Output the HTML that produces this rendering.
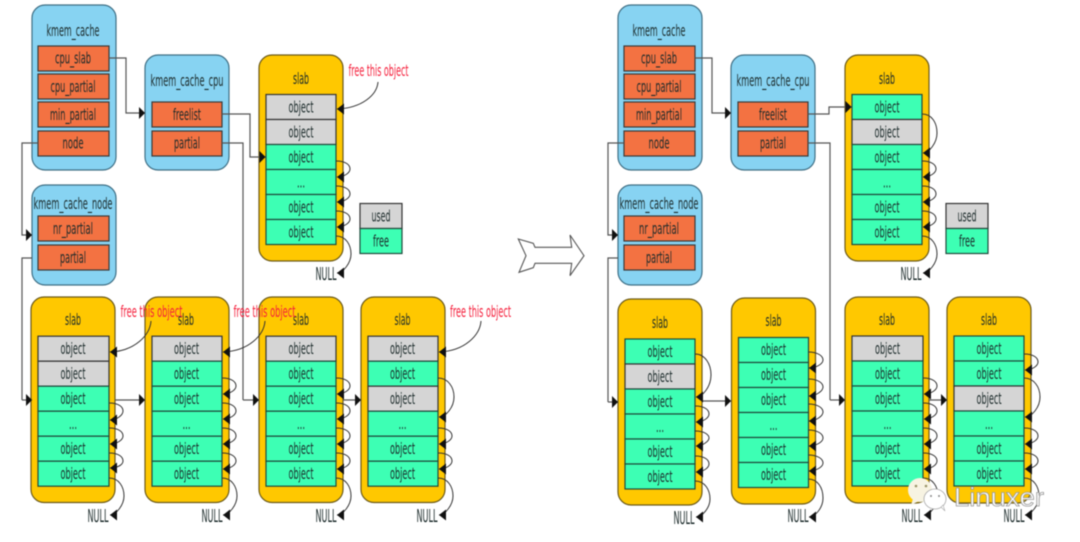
<!DOCTYPE html>
<html><head><meta charset="utf-8"><style>
html,body{margin:0;padding:0;background:#fff;width:1080px;height:542px;overflow:hidden}
svg{display:block;filter:blur(.45px)}
text{font-family:"DejaVu Sans","Liberation Sans",sans-serif;font-size:16px;text-anchor:middle;fill:#1c2b2b}
.b{fill:#87d3f2;stroke:#3f6f85;stroke-width:1.2}
.y{fill:#ffc800;stroke:#6b5a1a;stroke-width:1.2}
.r{fill:#f37242;stroke:#3a3a3a;stroke-width:1.2}
.g{fill:#3dffb4;stroke:#1f4a3c;stroke-width:1.2}
.u{fill:#d5d5d5;stroke:#333;stroke-width:1.2}
.l{fill:none;stroke:#555;stroke-width:1.2}
.a{fill:none;stroke:#333;stroke-width:1;marker-end:url(#h)}
.s{fill:none;stroke:#555;stroke-width:1.2;marker-end:url(#h2)}
text.f{fill:#f5203c}
text.n{font-size:18px}
</style></head><body>
<svg width="1080" height="542" viewBox="0 0 1080 542" xmlns="http://www.w3.org/2000/svg">
<defs>
<marker id="h" markerUnits="userSpaceOnUse" markerWidth="8" markerHeight="11" refX="7" refY="5.500" orient="180"><path d="M0 0L7 5.500L0 11z" fill="#111"/></marker>
<marker id="h2" markerUnits="userSpaceOnUse" markerWidth="7" markerHeight="12" refX="6" refY="6" orient="auto"><path d="M0 0L6 6L0 12z" fill="#111"/></marker>
</defs>

<!-- LEFT TOP -->
<rect class="b" x="32" y="5" width="84" height="165" rx="13"/>
<text x="73" y="36" textLength="53" lengthAdjust="spacingAndGlyphs">kmem_cache</text>
<rect class="r" x="38" y="46" width="71" height="25"/><text x="73" y="63.500" textLength="36" lengthAdjust="spacingAndGlyphs">cpu_slab</text>
<rect class="r" x="38" y="74" width="71" height="25"/><text x="73" y="92" textLength="45" lengthAdjust="spacingAndGlyphs">cpu_partial</text>
<rect class="r" x="38" y="102" width="71" height="25"/><text x="73" y="120" textLength="46" lengthAdjust="spacingAndGlyphs">min_partial</text>
<rect class="r" x="38" y="131" width="71" height="25"/><text x="73" y="148.500" textLength="21" lengthAdjust="spacingAndGlyphs">node</text>
<rect class="b" x="145" y="55" width="84" height="115" rx="13"/>
<text x="187" y="86" textLength="73" lengthAdjust="spacingAndGlyphs">kmem_cache_cpu</text>
<rect class="r" x="152" y="102" width="70" height="25"/><text x="187" y="120" textLength="28" lengthAdjust="spacingAndGlyphs">freelist</text>
<rect class="r" x="152" y="131" width="70" height="25"/><text x="187" y="148.500" textLength="26" lengthAdjust="spacingAndGlyphs">partial</text>
<rect class="b" x="32" y="185" width="84" height="100" rx="13"/>
<text x="73" y="209" textLength="79" lengthAdjust="spacingAndGlyphs">kmem_cache_node</text>
<rect class="r" x="38" y="216" width="71" height="25"/><text x="73" y="234" textLength="40" lengthAdjust="spacingAndGlyphs">nr_partial</text>
<rect class="r" x="38" y="245" width="71" height="25"/><text x="73" y="263" textLength="26" lengthAdjust="spacingAndGlyphs">partial</text>

<rect class="y" x="259" y="55" width="84" height="206" rx="13"/>
<text x="301" y="84" textLength="16" lengthAdjust="spacingAndGlyphs">slab</text>
<rect class="u" x="266" y="94.500" width="70" height="25"/><text x="301" y="112.500" textLength="25" lengthAdjust="spacingAndGlyphs">object</text>
<rect class="u" x="266" y="119.500" width="70" height="25"/><text x="301" y="137.500" textLength="25" lengthAdjust="spacingAndGlyphs">object</text>
<rect class="g" x="266" y="144.500" width="70" height="25"/><text x="301" y="162.500" textLength="25" lengthAdjust="spacingAndGlyphs">object</text>
<rect class="g" x="266" y="169.500" width="70" height="25"/><text x="301" y="187.500" textLength="8" lengthAdjust="spacingAndGlyphs">...</text>
<rect class="g" x="266" y="194.500" width="70" height="25"/><text x="301" y="212.500" textLength="25" lengthAdjust="spacingAndGlyphs">object</text>
<rect class="g" x="266" y="219.500" width="70" height="25"/><text x="301" y="237.500" textLength="25" lengthAdjust="spacingAndGlyphs">object</text>
<rect class="u" x="360" y="203.500" width="42" height="25"/><text x="381" y="221.500" textLength="19" lengthAdjust="spacingAndGlyphs">used</text>
<rect class="g" x="360" y="228.500" width="42" height="25"/><text x="381" y="246.500" textLength="16" lengthAdjust="spacingAndGlyphs">free</text>
<text class="n" x="326" y="280" textLength="21" lengthAdjust="spacingAndGlyphs">NULL</text>
<text class="f" x="378.500" y="76" textLength="60" lengthAdjust="spacingAndGlyphs">free this object</text>

<path class="s" d="M109 58H126V113H145"/>
<path class="s" d="M222 114H250V157H265.500"/>
<path class="l" d="M222 143H243V400"/>
<path class="s" d="M38 143H22V235H32"/>
<path class="l" d="M32 258H22V400"/>
<path class="a" d="M378 82C377 95 362 108 337 109"/>
<path class="a" d="M336 161c10 0 14 4 14 8s-6 8-13 8"/>
<path class="a" d="M336 186c10 0 14 4 14 8s-6 8-13 8"/>
<path class="a" d="M336 211c10 0 14 4 14 8s-6 8-13 8"/>
<path class="a" d="M336 236c10 0 15 9 15 18s-8 19-14 19"/>

<!-- LEFT BOTTOM -->
<g transform="translate(0,-.8)">
<rect class="y" x="31" y="297.800" width="84" height="205.500" rx="13"/>
<text x="73" y="326" textLength="16" lengthAdjust="spacingAndGlyphs">slab</text>
<rect class="u" x="38" y="337" width="71" height="25"/><text x="73" y="355" textLength="25" lengthAdjust="spacingAndGlyphs">object</text>
<rect class="u" x="38" y="362" width="71" height="25"/><text x="73" y="380" textLength="25" lengthAdjust="spacingAndGlyphs">object</text>
<rect class="g" x="38" y="387" width="71" height="25"/><text x="73" y="405" textLength="25" lengthAdjust="spacingAndGlyphs">object</text>
<rect class="g" x="38" y="412" width="71" height="25"/><text x="73" y="430" textLength="8" lengthAdjust="spacingAndGlyphs">...</text>
<rect class="g" x="38" y="437" width="71" height="25"/><text x="73" y="455" textLength="25" lengthAdjust="spacingAndGlyphs">object</text>
<rect class="g" x="38" y="462" width="71" height="25"/><text x="73" y="480" textLength="25" lengthAdjust="spacingAndGlyphs">object</text>

<rect class="y" x="145" y="297.800" width="84" height="205.500" rx="13"/>
<text x="186" y="326" textLength="16" lengthAdjust="spacingAndGlyphs">slab</text>
<rect class="u" x="152" y="337" width="70" height="25"/><text x="186.500" y="355" textLength="25" lengthAdjust="spacingAndGlyphs">object</text>
<rect class="g" x="152" y="362" width="70" height="25"/><text x="186.500" y="380" textLength="25" lengthAdjust="spacingAndGlyphs">object</text>
<rect class="g" x="152" y="387" width="70" height="25"/><text x="186.500" y="405" textLength="25" lengthAdjust="spacingAndGlyphs">object</text>
<rect class="g" x="152" y="412" width="70" height="25"/><text x="186.500" y="430" textLength="8" lengthAdjust="spacingAndGlyphs">...</text>
<rect class="g" x="152" y="437" width="70" height="25"/><text x="186.500" y="455" textLength="25" lengthAdjust="spacingAndGlyphs">object</text>
<rect class="g" x="152" y="462" width="70" height="25"/><text x="186.500" y="480" textLength="25" lengthAdjust="spacingAndGlyphs">object</text>

<rect class="y" x="259" y="297.800" width="84" height="205.500" rx="13"/>
<text x="301" y="326" textLength="16" lengthAdjust="spacingAndGlyphs">slab</text>
<rect class="u" x="266" y="337" width="70" height="25"/><text x="301" y="355" textLength="25" lengthAdjust="spacingAndGlyphs">object</text>
<rect class="g" x="266" y="362" width="70" height="25"/><text x="301" y="380" textLength="25" lengthAdjust="spacingAndGlyphs">object</text>
<rect class="g" x="266" y="387" width="70" height="25"/><text x="301" y="405" textLength="25" lengthAdjust="spacingAndGlyphs">object</text>
<rect class="g" x="266" y="412" width="70" height="25"/><text x="301" y="430" textLength="8" lengthAdjust="spacingAndGlyphs">...</text>
<rect class="g" x="266" y="437" width="70" height="25"/><text x="301" y="455" textLength="25" lengthAdjust="spacingAndGlyphs">object</text>
<rect class="g" x="266" y="462" width="70" height="25"/><text x="301" y="480" textLength="25" lengthAdjust="spacingAndGlyphs">object</text>

<rect class="y" x="361" y="297.800" width="84" height="205.500" rx="13"/>
<text x="402.500" y="326" textLength="16" lengthAdjust="spacingAndGlyphs">slab</text>
<rect class="u" x="368" y="337" width="70" height="25"/><text x="402.500" y="355" textLength="25" lengthAdjust="spacingAndGlyphs">object</text>
<rect class="g" x="368" y="362" width="70" height="25"/><text x="402.500" y="380" textLength="25" lengthAdjust="spacingAndGlyphs">object</text>
<rect class="u" x="368" y="387" width="70" height="25"/><text x="402.500" y="405" textLength="25" lengthAdjust="spacingAndGlyphs">object</text>
<rect class="g" x="368" y="412" width="70" height="25"/><text x="402.500" y="430" textLength="8" lengthAdjust="spacingAndGlyphs">...</text>
<rect class="g" x="368" y="437" width="70" height="25"/><text x="402.500" y="455" textLength="25" lengthAdjust="spacingAndGlyphs">object</text>
<rect class="g" x="368" y="462" width="70" height="25"/><text x="402.500" y="480" textLength="25" lengthAdjust="spacingAndGlyphs">object</text>
</g>

<text class="n" x="98" y="522" textLength="21" lengthAdjust="spacingAndGlyphs">NULL</text>
<text class="n" x="212" y="522" textLength="21" lengthAdjust="spacingAndGlyphs">NULL</text>
<text class="n" x="326" y="522" textLength="21" lengthAdjust="spacingAndGlyphs">NULL</text>
<text class="n" x="427" y="522" textLength="21" lengthAdjust="spacingAndGlyphs">NULL</text>

<path class="s" d="M22 400H32"/>
<path class="s" d="M115 400H145"/>
<path class="s" d="M243 400H259"/>
<path class="s" d="M343 400H361"/>

<path class="a" d="M109 403c10 0 14 4 14 8s-6 9-13 9"/>
<path class="a" d="M109 428c10 0 14 4 14 8s-6 8-13 8"/>
<path class="a" d="M109 453c10 0 14 4 14 8s-6 7-13 7"/>
<path class="a" d="M109 478c10 0 15 9 15 18s-8 19-14 19"/>
<path class="a" d="M222 378c10 0 14 4 14 8s-6 8-13 8"/>
<path class="a" d="M222 403c10 0 14 4 14 8s-6 8-13 8"/>
<path class="a" d="M222 428c10 0 14 4 14 8s-6 8-13 8"/>
<path class="a" d="M222 453c10 0 14 4 14 8s-6 8-13 8"/>
<path class="a" d="M222 478c10 0 15 9 15 18s-8 19-14 19"/>
<path class="a" d="M336 378c10 0 14 4 14 8s-6 8-13 8"/>
<path class="a" d="M336 403c10 0 14 4 14 8s-6 8-13 8"/>
<path class="a" d="M336 428c10 0 14 4 14 8s-6 8-13 8"/>
<path class="a" d="M336 453c10 0 14 4 14 8s-6 8-13 8"/>
<path class="a" d="M336 478c10 0 15 9 15 18s-8 19-14 19"/>
<path class="a" d="M438 378c10 0 16 9 16 19s-8 20-15 20"/>
<path class="a" d="M438 428c10 0 14 4 14 8s-6 8-13 8"/>
<path class="a" d="M438 453c10 0 14 4 14 8s-6 8-13 8"/>
<path class="a" d="M438 478c10 0 15 9 15 18s-8 19-14 19"/>

<text class="f" x="151.500" y="317" textLength="62" lengthAdjust="spacingAndGlyphs">free this object</text>
<text class="f" x="264.500" y="317" textLength="62" lengthAdjust="spacingAndGlyphs">free this object</text>
<text class="f" x="480.500" y="317" textLength="61" lengthAdjust="spacingAndGlyphs">free this object</text>
<path class="a" d="M151 321C150 335 135 351 110 352"/>
<path class="a" d="M265 321C264 335 249 351 223 352"/>
<path class="a" d="M481 321C480 335 465 351 439 352"/>

<!-- BIG ARROW -->
<path d="M518.300 239L533.300 243.300L535 247.300H571.700L570 235L584 255.700L570 275.700L571.700 263.300H535L533.300 267.700L519 272.300L526 255.700Z" fill="#fff" stroke="#555" stroke-width="1.100"/>

<!-- RIGHT TOP -->
<rect class="b" x="618" y="5" width="84" height="165" rx="13"/>
<text x="659" y="36" textLength="53" lengthAdjust="spacingAndGlyphs">kmem_cache</text>
<rect class="r" x="624" y="46" width="71" height="25"/><text x="659" y="63.500" textLength="36" lengthAdjust="spacingAndGlyphs">cpu_slab</text>
<rect class="r" x="624" y="74" width="71" height="25"/><text x="659" y="92" textLength="45" lengthAdjust="spacingAndGlyphs">cpu_partial</text>
<rect class="r" x="624" y="102" width="71" height="25"/><text x="659" y="120" textLength="46" lengthAdjust="spacingAndGlyphs">min_partial</text>
<rect class="r" x="624" y="131" width="71" height="25"/><text x="659" y="148.500" textLength="21" lengthAdjust="spacingAndGlyphs">node</text>
<rect class="b" x="731" y="55" width="84" height="115" rx="13"/>
<text x="773" y="86" textLength="73" lengthAdjust="spacingAndGlyphs">kmem_cache_cpu</text>
<rect class="r" x="738" y="102" width="70" height="25"/><text x="773" y="120" textLength="28" lengthAdjust="spacingAndGlyphs">freelist</text>
<rect class="r" x="738" y="131" width="70" height="25"/><text x="773" y="148.500" textLength="26" lengthAdjust="spacingAndGlyphs">partial</text>
<rect class="b" x="618" y="185" width="84" height="100" rx="13"/>
<text x="659" y="209" textLength="79" lengthAdjust="spacingAndGlyphs">kmem_cache_node</text>
<rect class="r" x="624" y="216" width="71" height="25"/><text x="659" y="234" textLength="40" lengthAdjust="spacingAndGlyphs">nr_partial</text>
<rect class="r" x="624" y="245" width="71" height="25"/><text x="659" y="263" textLength="26" lengthAdjust="spacingAndGlyphs">partial</text>

<rect class="y" x="845" y="55" width="84" height="206" rx="13"/>
<text x="887" y="84" textLength="16" lengthAdjust="spacingAndGlyphs">slab</text>
<rect class="g" x="852" y="94.500" width="70" height="25"/><text x="887" y="112.500" textLength="25" lengthAdjust="spacingAndGlyphs">object</text>
<rect class="u" x="852" y="119.500" width="70" height="25"/><text x="887" y="137.500" textLength="25" lengthAdjust="spacingAndGlyphs">object</text>
<rect class="g" x="852" y="144.500" width="70" height="25"/><text x="887" y="162.500" textLength="25" lengthAdjust="spacingAndGlyphs">object</text>
<rect class="g" x="852" y="169.500" width="70" height="25"/><text x="887" y="187.500" textLength="8" lengthAdjust="spacingAndGlyphs">...</text>
<rect class="g" x="852" y="194.500" width="70" height="25"/><text x="887" y="212.500" textLength="25" lengthAdjust="spacingAndGlyphs">object</text>
<rect class="g" x="852" y="219.500" width="70" height="25"/><text x="887" y="237.500" textLength="25" lengthAdjust="spacingAndGlyphs">object</text>
<rect class="u" x="946" y="203.500" width="42" height="25"/><text x="967" y="221.500" textLength="19" lengthAdjust="spacingAndGlyphs">used</text>
<rect class="g" x="946" y="228.500" width="42" height="25"/><text x="967" y="246.500" textLength="16" lengthAdjust="spacingAndGlyphs">free</text>
<text class="n" x="911" y="280" textLength="21" lengthAdjust="spacingAndGlyphs">NULL</text>

<path class="s" d="M695 58H712V113H731"/>
<path class="s" d="M808 114H829V107H851.500"/>
<path class="l" d="M808 143H830V400"/>
<path class="s" d="M624 143H608V235H618"/>
<path class="l" d="M618 258H608V402"/>
<path class="a" d="M922 114c10 0 15 9 15 19s-8 20-14 20"/>
<path class="a" d="M922 161c10 0 14 4 14 8s-6 8-13 8"/>
<path class="a" d="M922 186c10 0 14 4 14 8s-6 8-13 8"/>
<path class="a" d="M922 211c10 0 14 4 14 8s-6 8-13 8"/>
<path class="a" d="M922 236c10 0 15 9 15 18s-8 19-14 19"/>

<!-- RIGHT BOTTOM -->
<rect class="y" x="618" y="299" width="84" height="206" rx="13"/>
<text x="660" y="328" textLength="16" lengthAdjust="spacingAndGlyphs">slab</text>
<rect class="g" x="625" y="339" width="70" height="25"/><text x="660" y="357" textLength="25" lengthAdjust="spacingAndGlyphs">object</text>
<rect class="u" x="625" y="364" width="70" height="25"/><text x="660" y="382" textLength="25" lengthAdjust="spacingAndGlyphs">object</text>
<rect class="g" x="625" y="389" width="70" height="25"/><text x="660" y="407" textLength="25" lengthAdjust="spacingAndGlyphs">object</text>
<rect class="g" x="625" y="414" width="70" height="25"/><text x="660" y="432" textLength="8" lengthAdjust="spacingAndGlyphs">...</text>
<rect class="g" x="625" y="439" width="70" height="25"/><text x="660" y="457" textLength="25" lengthAdjust="spacingAndGlyphs">object</text>
<rect class="g" x="625" y="464" width="70" height="25"/><text x="660" y="482" textLength="25" lengthAdjust="spacingAndGlyphs">object</text>

<rect class="y" x="731.500" y="298" width="84" height="206" rx="13"/>
<text x="773.500" y="326" textLength="16" lengthAdjust="spacingAndGlyphs">slab</text>
<rect class="g" x="738.500" y="337.500" width="70" height="25"/><text x="773.500" y="354.800" textLength="25" lengthAdjust="spacingAndGlyphs">object</text>
<rect class="g" x="738.500" y="362.500" width="70" height="25"/><text x="773.500" y="379.800" textLength="25" lengthAdjust="spacingAndGlyphs">object</text>
<rect class="g" x="738.500" y="387.500" width="70" height="25"/><text x="773.500" y="404.800" textLength="25" lengthAdjust="spacingAndGlyphs">object</text>
<rect class="g" x="738.500" y="412.500" width="70" height="25"/><text x="773.500" y="429.800" textLength="8" lengthAdjust="spacingAndGlyphs">...</text>
<rect class="g" x="738.500" y="437.500" width="70" height="25"/><text x="773.500" y="454.800" textLength="25" lengthAdjust="spacingAndGlyphs">object</text>
<rect class="g" x="738.500" y="462.500" width="70" height="25"/><text x="773.500" y="479.800" textLength="25" lengthAdjust="spacingAndGlyphs">object</text>

<rect class="y" x="845" y="297" width="84" height="206" rx="13"/>
<text x="887" y="325" textLength="16" lengthAdjust="spacingAndGlyphs">slab</text>
<rect class="u" x="852" y="336" width="71" height="25"/><text x="887.500" y="354" textLength="25" lengthAdjust="spacingAndGlyphs">object</text>
<rect class="g" x="852" y="361" width="71" height="25"/><text x="887.500" y="379" textLength="25" lengthAdjust="spacingAndGlyphs">object</text>
<rect class="g" x="852" y="386" width="71" height="25"/><text x="887.500" y="404" textLength="25" lengthAdjust="spacingAndGlyphs">object</text>
<rect class="g" x="852" y="411" width="71" height="25"/><text x="887.500" y="429" textLength="8" lengthAdjust="spacingAndGlyphs">...</text>
<rect class="g" x="852" y="436" width="71" height="25"/><text x="887.500" y="454" textLength="25" lengthAdjust="spacingAndGlyphs">object</text>
<rect class="g" x="852" y="461" width="71" height="25"/><text x="887.500" y="479" textLength="25" lengthAdjust="spacingAndGlyphs">object</text>

<rect class="y" x="947" y="297" width="84" height="206" rx="13"/>
<text x="989" y="325" textLength="16" lengthAdjust="spacingAndGlyphs">slab</text>
<rect class="g" x="954" y="336" width="70" height="25"/><text x="989" y="354" textLength="25" lengthAdjust="spacingAndGlyphs">object</text>
<rect class="g" x="954" y="361" width="70" height="25"/><text x="989" y="379" textLength="25" lengthAdjust="spacingAndGlyphs">object</text>
<rect class="u" x="954" y="386" width="70" height="25"/><text x="989" y="404" textLength="25" lengthAdjust="spacingAndGlyphs">object</text>
<rect class="g" x="954" y="411" width="70" height="25"/><text x="989" y="429" textLength="8" lengthAdjust="spacingAndGlyphs">...</text>
<rect class="g" x="954" y="436" width="70" height="25"/><text x="989" y="454" textLength="25" lengthAdjust="spacingAndGlyphs">object</text>
<rect class="g" x="954" y="461" width="70" height="25"/><text x="989" y="479" textLength="25" lengthAdjust="spacingAndGlyphs">object</text>

<text class="n" x="684" y="524" textLength="21" lengthAdjust="spacingAndGlyphs">NULL</text>
<text class="n" x="798" y="522" textLength="21" lengthAdjust="spacingAndGlyphs">NULL</text>
<text class="n" x="912" y="522" textLength="21" lengthAdjust="spacingAndGlyphs">NULL</text>
<text class="n" x="1014" y="522" textLength="21" lengthAdjust="spacingAndGlyphs">NULL</text>

<path class="s" d="M608 402H618"/>
<path class="s" d="M702 401H731"/>
<path class="s" d="M830 400H845"/>
<path class="s" d="M929 400H947"/>

<path class="a" d="M695 354c10 0 16 10 16 21s-8 22-15 22"/>
<path class="a" d="M695 406c10 0 14 4 14 8s-6 8-13 8"/>
<path class="a" d="M695 431c10 0 14 4 14 7s-6 8-13 8"/>
<path class="a" d="M695 456c10 0 14 4 14 8s-6 8-13 8"/>
<path class="a" d="M695 481c10 0 15 9 15 18s-8 18-14 18"/>
<path class="a" d="M808 352c10 0 15 4 15 8s-7 8-14 8"/>
<path class="a" d="M808 379c10 0 15 4 15 8s-7 9-14 9"/>
<path class="a" d="M808 404c10 0 15 4 15 8s-7 9-14 9"/>
<path class="a" d="M808 430c10 0 15 4 15 8s-7 8-14 8"/>
<path class="a" d="M808 455c10 0 15 4 15 8s-7 8-14 8"/>
<path class="a" d="M808 479c10 0 15 9 15 19s-8 19-14 19"/>
<path class="a" d="M923 378c10 0 14 4 14 8s-6 8-13 8"/>
<path class="a" d="M923 403c10 0 14 4 14 8s-6 8-13 8"/>
<path class="a" d="M923 428c10 0 14 4 14 8s-6 8-13 8"/>
<path class="a" d="M923 453c10 0 14 4 14 8s-6 8-13 8"/>
<path class="a" d="M923 478c10 0 15 9 15 18s-8 19-14 19"/>
<path class="a" d="M1024 354c10 0 14 4 14 8s-6 8-13 8"/>
<path class="a" d="M1024 378c10 0 16 9 16 19s-8 20-15 20"/>
<path class="a" d="M1024 428c10 0 14 4 14 8s-6 8-13 8"/>
<path class="a" d="M1024 453c10 0 14 4 14 8s-6 8-13 8"/>
<path class="a" d="M1024 478c10 0 15 9 15 18s-8 19-14 19"/>

<!-- WATERMARK -->
<ellipse cx="920" cy="490" rx="12" ry="12" fill="#f7f3e2"/>
<path d="M913 499L911 505L919 501Z" fill="#f7f3e2"/>
<circle cx="916" cy="486" r="1.300" fill="#9a9468"/>
<circle cx="926" cy="486" r="1.300" fill="#9a9468"/>
<ellipse cx="935" cy="499" rx="11" ry="10" fill="#fff" stroke="#aaa" stroke-width=".8"/>
<path d="M941 507L945 511L943 505Z" fill="#fff" stroke="#aaa" stroke-width=".6"/>
<circle cx="931" cy="496" r="1" fill="#888"/>
<circle cx="939" cy="496" r="1" fill="#888"/>
<text x="999" y="506" textLength="90" lengthAdjust="spacingAndGlyphs" style="font-family:'Liberation Sans',sans-serif;font-size:26px;fill:#fff;stroke:#999;stroke-width:.8">Linuxer</text>
</svg>
</body></html>
